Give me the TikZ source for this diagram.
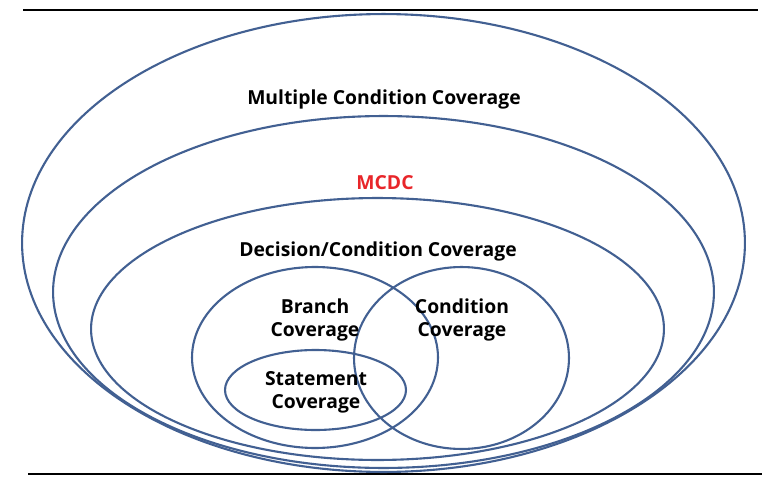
\documentclass[tikz,border=0pt]{standalone}
\usepackage{fontspec}
\setsansfont{Open Sans}
\usetikzlibrary{shapes.geometric}

\begin{document}
\begin{tikzpicture}[x=0.02cm, y=-0.02cm,
    anello/.style={draw=colorBordo, line width=1.2pt, ellipse, inner sep=0pt},
    etichetta/.style={font=\bfseries\sffamily\fontsize{11}{13}\selectfont, align=center}
    ]
    % Definizione colori
    \definecolor{colorBordo}{RGB}{66, 96, 146}
    \definecolor{colorMCDC}{RGB}{232, 38, 42}

    \useasboundingbox (0,0) rectangle (781,480);

    % Linee orizzontali
    \draw[line width=1.5pt] (23,10) -- (758,10);
    \draw[line width=1.5pt] (28,474) -- (762,474);

    % Insiemi annidati
    \node[anello, minimum width=14.46cm, minimum height=9.16cm] (multiple) at (383.5,243) {};
    \node[anello, minimum width=13.22cm, minimum height=7.04cm] (mcdc) at (383.5,292) {};
    \node[anello, minimum width=11.46cm, minimum height=5.24cm] (decisione) at (377.5,329) {};
    \node[anello, minimum width=4.92cm, minimum height=3.62cm] (ramo) at (315,357.5) {};
    \node[anello, minimum width=4.30cm, minimum height=3.64cm] (condizione) at (461.5,358) {};
    \node[anello, minimum width=3.62cm, minimum height=1.60cm] (istruzione) at (315.5,390) {};

    % Etichette
    \node[etichetta] (tMultiple) at (384,99) {Multiple Condition Coverage};
    \node[etichetta, text=colorMCDC] (tMcdc) at (385,183) {MCDC};
    \node[etichetta] (tDecisione) at (378,251) {Decision/Condition Coverage};
    \node[etichetta] (tRamo) at (315,320) {Branch\\Coverage};
    \node[etichetta] (tCondizione) at (462,320) {Condition\\Coverage};
    \node[etichetta] (tIstruzione) at (316,392) {Statement\\Coverage};
\end{tikzpicture}
\end{document}
